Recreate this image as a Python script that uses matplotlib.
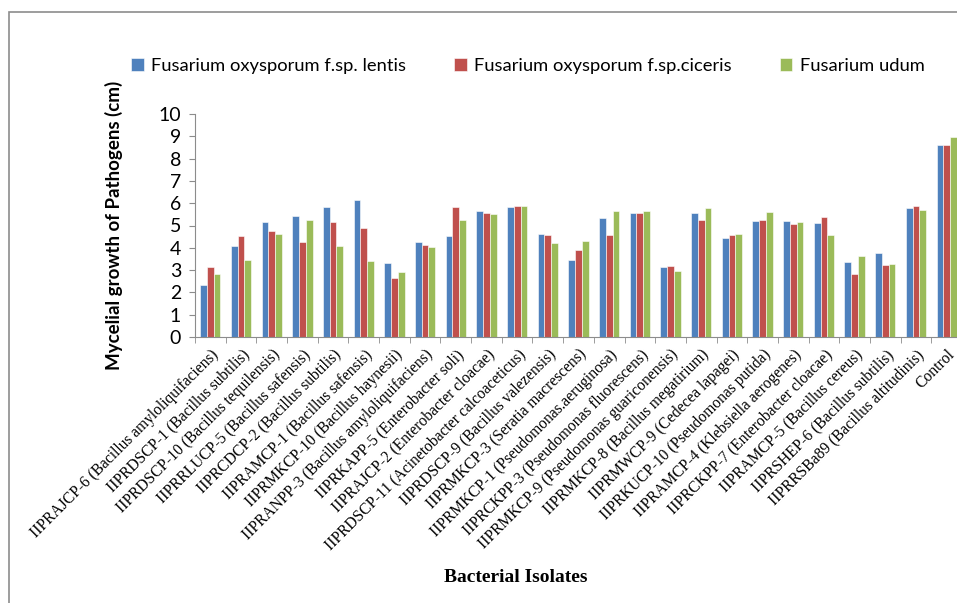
import numpy as np
import matplotlib
matplotlib.use("Agg")
import matplotlib.pyplot as plt
from matplotlib.patches import Rectangle

isolates = [
    "IIPRAJCP-6 (Bacillus amyloliquifaciens)",
    "IIPRDSCP-1 (Bacillus subtilis)",
    "IIPRDSCP-10 (Bacillus tequilensis)",
    "IIPRRLUCP-5 (Bacillus safensis)",
    "IIPRCDCP-2 (Bacillus subtilis)",
    "IIPRAMCP-1 (Bacillus safensis)",
    "IIPRMKCP-10 (Bacillus haynesii)",
    "IIPRANPP-3 (Bacillus amyloliquifaciens)",
    "IIPRKAPP-5 (Enterobacter soli)",
    "IIPRAJCP-2 (Enterobacter cloacae)",
    "IIPRDSCP-11 (Acinetobacter calcoaceticus)",
    "IIPRDSCP-9 (Bacillus valezensis)",
    "IIPRMKCP-3 (Seratia macrescens)",
    "IIPRMKCP-1 (Pseudomonas.aeruginosa)",
    "IIPRCKPP-3 (Pseudomonas fluorescens)",
    "IIPRMKCP-9 (Pseudomonas guariconensis)",
    "IIPRMKCP-8 (Bacillus megatirium)",
    "IIPRMWCP-9 (Cedecea lapagei)",
    "IIPRKUCP-10 (Pseudomonas putida)",
    "IIPRAMCP-4 (Klebsiella aerogenes)",
    "IIPRCKPP-7 (Enterobacter cloacae)",
    "IIPRAMCP-5 (Bacillus cereus)",
    "IIPRSHEP-6 (Bacillus subtilis)",
    "IIPRRSBa89 (Bacillus altitudinis)",
    "Control",
]

lentis = [2.34, 4.08, 5.14, 5.44, 5.84, 6.14, 3.33, 4.28, 4.53, 5.63, 5.84, 4.62, 3.47,
          5.35, 5.57, 3.14, 5.54, 4.43, 5.18, 5.18, 5.09, 3.38, 3.78, 5.78, 8.59]
ciceris = [3.14, 4.53, 4.77, 4.28, 5.14, 4.89, 2.63, 4.13, 5.84, 5.57, 5.89, 4.58, 3.89,
           4.58, 5.57, 3.18, 5.24, 4.58, 5.24, 5.05, 5.39, 2.84, 3.24, 5.89, 8.59]
udum = [2.84, 3.47, 4.62, 5.24, 4.08, 3.42, 2.93, 4.04, 5.23, 5.53, 5.89, 4.22, 4.32,
        5.63, 5.63, 2.97, 5.78, 4.62, 5.59, 5.14, 4.58, 3.63, 3.27, 5.68, 8.98]

series_names = ["Fusarium oxysporum f.sp. lentis", "Fusarium oxysporum f.sp.ciceris", "Fusarium udum"]
colors = ["#4F81BD", "#C0504D", "#9BBB59"]

sans = ["Lato", "DejaVu Sans"]
serif = ["Liberation Serif", "DejaVu Serif"]

fig = plt.figure(figsize=(9.57, 6.03), dpi=100)
# outer chart frame (cut at right and bottom as in the source)
fig.patches.append(Rectangle((9 / 957, -0.1), 1.2, (603 - 12) / 603 + 0.1,
                             transform=fig.transFigure, fill=False,
                             edgecolor="#8c8c8c", linewidth=1.2))

ax = fig.add_axes([195 / 957, (603 - 337) / 603, (962 - 195) / 957, (337 - 114) / 603])

x = np.arange(len(isolates))
w = 0.22
for i, (vals, name, c) in enumerate(zip([lentis, ciceris, udum], series_names, colors)):
    ax.bar(x + (i - 1) * w, vals, width=w, color=c, edgecolor="white", linewidth=0.4, label=name)

ax.set_xlim(-0.5, len(isolates) - 0.5)
ax.set_ylim(0, 10)
ax.set_yticks(range(0, 11))
ax.set_yticklabels([str(v) for v in range(0, 11)], family=sans, fontsize=14)

ax.set_xticks(x)
ax.set_xticklabels(isolates, rotation=45, ha="right", va="top", rotation_mode="anchor",
                   family=serif, fontsize=11.2)
ax.set_xticks(np.arange(-0.5, len(isolates), 1), minor=True)
ax.tick_params(axis="x", which="major", length=0, pad=7)
ax.tick_params(axis="x", which="minor", length=4, color="#8c8c8c", direction="out")
ax.tick_params(axis="y", length=4, color="#8c8c8c", direction="out", pad=6)

for side in ["top", "right"]:
    ax.spines[side].set_visible(False)
ax.spines["left"].set_color("#8c8c8c")
ax.spines["bottom"].set_color("#8c8c8c")

ax.set_ylabel("Mycelial growth of Pathogens (cm)", family=sans, fontsize=13.5,
              fontweight="bold")
ax.yaxis.set_label_coords(-72 / 767, 0.5)
fig.text(516 / 957, 1 - 578 / 603, "Bacterial Isolates", family=serif, fontsize=14,
         fontweight="bold", ha="center", va="center")

fig.legend(loc="center", bbox_to_anchor=(528 / 957, 1 - 66 / 603), ncol=3, frameon=False,
           prop={"family": sans, "size": 13.2}, handlelength=0.7, handleheight=0.7,
           handletextpad=0.4, columnspacing=2.6)

fig.savefig("out.png", dpi=100)
